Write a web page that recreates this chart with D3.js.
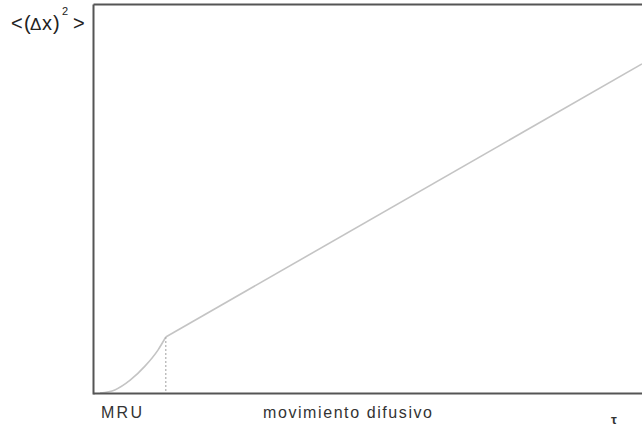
<!DOCTYPE html>
<html><head><meta charset="utf-8">
<script src="https://cdn.jsdelivr.net/npm/d3@7"></script>
<style>body{margin:0;background:#fff}svg{display:block}text{font-family:"Liberation Sans",Arial,sans-serif}</style>
</head><body>
<script>
// Mean squared displacement vs time (schematic)
const curveT = [1.1, 3.8, 6.6, 9.3, 11.7, 13.1];
const curveMSD = [0, 0.8, 3.3, 6.9, 11.1, 14.4];
const lineT = [13.1, 100];
const lineMSD = [14.4, 84.6];
const transitionT = 13.1;
const xLabels = ["MRU", "movimiento difusivo", "τ"];

const W = 642, H = 429;
const svg = d3.select("body").append("svg").attr("width", W).attr("height", H);
const x = d3.scaleLinear().domain([0, 100]).range([94, 642]);
const y = d3.scaleLinear().domain([0, 100]).range([393, 4]);

const pts = curveT.map((t, i) => [t, curveMSD[i]]);
const lpts = lineT.map((t, i) => [t, lineMSD[i]]);

const line = d3.line().x(d => x(d[0])).y(d => y(d[1])).curve(d3.curveMonotoneX);
svg.append("path").attr("d", line(pts)).attr("fill", "none").attr("stroke", "#c4c4c4").attr("stroke-width", 1.6);
svg.append("path").attr("d", d3.line().x(d => x(d[0])).y(d => y(d[1]))(lpts)).attr("fill", "none").attr("stroke", "#c4c4c4").attr("stroke-width", 1.6);

svg.append("line").attr("x1", x(transitionT)).attr("x2", x(transitionT))
  .attr("y1", y(curveMSD[curveMSD.length - 1])).attr("y2", y(0))
  .attr("stroke", "#b0b0b0").attr("stroke-width", 1.2).attr("stroke-dasharray", "2,2");

// frame via axes
const fr = "#555";
const ax = svg.append("g").attr("transform", `translate(0,${y(0)})`).call(d3.axisBottom(x.copy().range([93, 660])).tickValues([]).tickSizeOuter(0));
const ay = svg.append("g").attr("transform", `translate(${x(0) - 1},0)`).call(d3.axisLeft(y.copy().range([394, 4])).tickValues([]).tickSizeOuter(0));
const at = svg.append("g").attr("transform", `translate(0,${y(100)})`).call(d3.axisTop(x.copy().range([93, 660])).tickValues([]).tickSizeOuter(0));
[ax, ay, at].forEach(g => g.select(".domain").attr("stroke", fr).attr("stroke-width", 2));

// y label <(Δx)²>
const yl = svg.append("g").attr("fill", "#222");
const glyphs = [["<", 11, 30, 20], ["(", 24, 30, 20], ["Δ", 30, 30, 17], ["x", 42, 30, 20], [")", 53, 30, 20], ["2", 62, 15, 11], [">", 73, 30, 20]];
glyphs.forEach(g => yl.append("text").attr("x", g[1]).attr("y", g[2]).attr("font-size", g[3]).text(g[0]));

svg.append("text").attr("x", 101).attr("y", 418).attr("font-size", 16).attr("fill", "#333")
  .attr("textLength", 41).attr("lengthAdjust", "spacing").text(xLabels[0]);
svg.append("text").attr("x", 263).attr("y", 418).attr("font-size", 16).attr("fill", "#333")
  .attr("textLength", 169).attr("lengthAdjust", "spacing").text(xLabels[1]);
svg.append("text").attr("x", 614).attr("y", 424).attr("text-anchor", "middle").attr("font-size", 13).attr("font-weight", "bold").attr("fill", "#333").text(xLabels[2]);
</script>
</body></html>
